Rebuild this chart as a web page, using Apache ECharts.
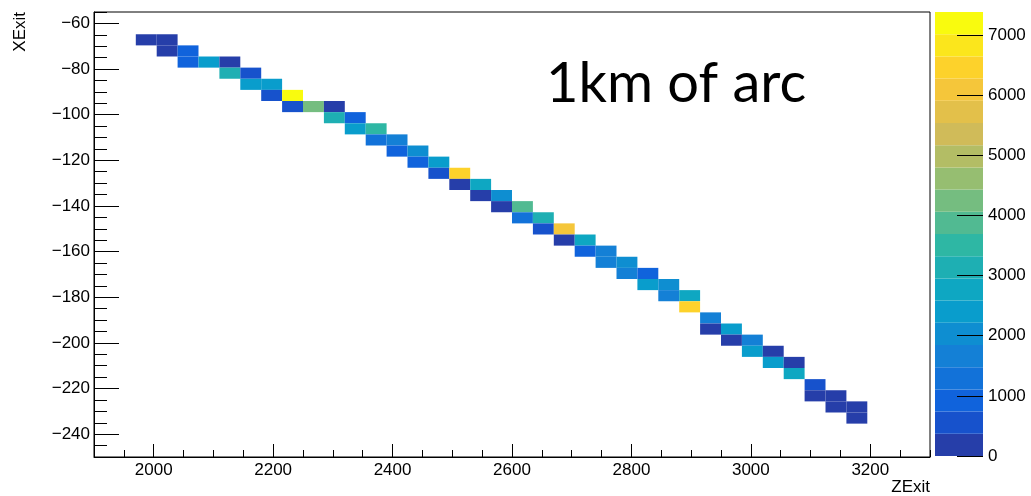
<!DOCTYPE html>
<html><head><meta charset="utf-8">
<script src="https://cdn.jsdelivr.net/npm/echarts@6/dist/echarts.min.js"></script>
<style>html,body{margin:0;padding:0;background:#fff}#c{width:1031px;height:496px}</style>
</head><body><div id="c"></div>
<script>
// ---- data (bin centres) ----
const zExit = [1987.5,2022.5,2022.5,2057.5,2057.5,2092.5,2127.5,2127.5,2162.5,2162.5,
  2197.5,2197.5,2232.5,2232.5,2267.5,2302.5,2302.5,2337.5,2337.5,2372.5,
  2372.5,2407.5,2407.5,2442.5,2442.5,2477.5,2477.5,2512.5,2512.5,2547.5,
  2547.5,2582.5,2582.5,2617.5,2617.5,2652.5,2652.5,2687.5,2687.5,2722.5,
  2722.5,2757.5,2757.5,2792.5,2792.5,2827.5,2827.5,2862.5,2862.5,2897.5,
  2897.5,2932.5,2932.5,2967.5,2967.5,3002.5,3002.5,3037.5,3037.5,3072.5,
  3072.5,3107.5,3107.5,3142.5,3142.5,3177.5,3177.5];
const xExit = [-67.19,-67.19,-72.06,-72.06,-76.94,-76.94,-76.94,-81.81,-81.81,-86.69,
  -86.69,-91.56,-91.56,-96.44,-96.44,-96.44,-101.31,-101.31,-106.19,-106.19,
  -111.06,-111.06,-115.94,-115.94,-120.81,-120.81,-125.69,-125.69,-130.56,-130.56,
  -135.44,-135.44,-140.31,-140.31,-145.19,-145.19,-150.06,-150.06,-154.94,-154.94,
  -159.81,-159.81,-164.69,-164.69,-169.56,-169.56,-174.44,-174.44,-179.31,-179.31,
  -184.19,-189.06,-193.94,-193.94,-198.81,-198.81,-203.69,-203.69,-208.56,-208.56,
  -213.44,-218.31,-223.19,-223.19,-228.06,-228.06,-232.94];
const counts = [240,310,280,900,880,2450,300,3150,620,2500,
  2480,640,7380,700,4200,250,3100,850,2420,3500,
  1250,1600,900,2000,920,2450,700,6450,260,2700,
  280,2000,250,3850,1400,3100,690,6150,300,2750,
  860,1620,1550,1950,1700,800,2400,1900,1650,2680,
  6500,1580,330,2380,270,1680,2500,240,2430,220,
  2720,600,290,310,270,300,260];
const zTicks = [2000,2200,2400,2600,2800,3000,3200];
const xTicks = [-240,-220,-200,-180,-160,-140,-120,-100,-80,-60];
const cTicks = [0,1000,2000,3000,4000,5000,6000,7000];
const Z_MIN = 1900, Z_MAX_AX = 3300, X_MIN = -250, X_MAX = -55;
const BIN_Z = 35, BIN_X = 4.875;
const C_MAX = 7380, N_LEVELS = 20;

// ---- ROOT kBird palette ----
const stops = [0,0.125,0.25,0.375,0.5,0.625,0.75,0.875,1];
const pr = [0.2082,0.0592,0.0780,0.0232,0.1802,0.5301,0.8186,0.9956,0.9764];
const pg = [0.1664,0.3599,0.5041,0.6419,0.7178,0.7492,0.7328,0.7862,0.9832];
const pb = [0.5293,0.8684,0.8385,0.7914,0.6425,0.4662,0.3499,0.1968,0.0539];
function bird(t){
  t = Math.max(0, Math.min(1, t));
  let k = 0; while (k < stops.length - 2 && t > stops[k+1]) k++;
  const f = (t - stops[k]) / (stops[k+1] - stops[k]);
  const c = a => Math.round(255 * (a[k] + (a[k+1] - a[k]) * f));
  return 'rgb(' + c(pr) + ',' + c(pg) + ',' + c(pb) + ')';
}
const levelColors = [], pieces = [], bands = [];
for (let k = 0; k < N_LEVELS; k++) {
  const col = bird((k + 0.99) / N_LEVELS);
  levelColors.push(col);
  const lo = k * C_MAX / N_LEVELS, hi = (k + 1) * C_MAX / N_LEVELS;
  pieces.push({gte: lo, lt: k === N_LEVELS - 1 ? C_MAX + 1 : hi, color: col});
  bands.push([lo, hi]);
}

const FONT = "'Liberation Sans', Arial, Helvetica, sans-serif";
const lbl = {fontFamily: FONT, fontSize: 17, color: '#000'};
const plain = v => String(v).replace('-', '\u2212');

const chart = echarts.init(document.getElementById('c'), null, {renderer: 'canvas'});
chart.setOption({
  animation: false,
  backgroundColor: '#fff',
  grid: [
    {left: 94, right: 101, top: 12, bottom: 39, show: true, borderColor: '#000', borderWidth: 1, backgroundColor: 'transparent'},
    {left: 935, width: 48, top: 12, bottom: 40}
  ],
  xAxis: [
    {gridIndex: 0, type: 'value', min: Z_MIN, max: Z_MAX_AX, interval: 50, position: 'bottom',
     axisLine: {show: true, onZero: false, lineStyle: {color: '#000', width: 1}},
     axisTick: {show: true, inside: true, length: 7, lineStyle: {color: '#000'}},
     axisLabel: {show: false}, splitLine: {show: false}},
    {gridIndex: 0, type: 'value', min: Z_MIN, max: Z_MAX_AX, position: 'bottom',
     axisLine: {show: false, onZero: false},
     axisTick: {show: true, inside: true, length: 13, customValues: zTicks, lineStyle: {color: '#000'}},
     axisLabel: Object.assign({show: true, margin: 5, customValues: zTicks, formatter: plain}, lbl),
     splitLine: {show: false}},
    {gridIndex: 1, type: 'value', min: 0, max: 1, show: false}
  ],
  yAxis: [
    {gridIndex: 0, type: 'value', min: X_MIN, max: X_MAX, interval: 5, position: 'left',
     axisLine: {show: true, onZero: false, lineStyle: {color: '#000', width: 1}},
     axisTick: {show: true, inside: true, length: 13, lineStyle: {color: '#000'}},
     axisLabel: {show: false}, splitLine: {show: false}},
    {gridIndex: 0, type: 'value', min: X_MIN, max: X_MAX, position: 'left',
     axisLine: {show: false, onZero: false},
     axisTick: {show: true, inside: true, length: 25, customValues: xTicks, lineStyle: {color: '#000'}},
     axisLabel: Object.assign({show: true, margin: 4, customValues: xTicks, formatter: plain}, lbl),
     splitLine: {show: false}},
    {gridIndex: 1, type: 'value', min: 0, max: C_MAX, position: 'right', z: 10,
     axisLine: {show: false, onZero: false},
     axisTick: {show: true, inside: true, length: 26, customValues: cTicks, lineStyle: {color: '#000'}},
     axisLabel: Object.assign({show: true, margin: 5, customValues: cTicks, formatter: plain}, lbl),
     splitLine: {show: false}}
  ],
  visualMap: {type: 'piecewise', show: false, dimension: 2, seriesIndex: 0, pieces: pieces},
  series: [
    {type: 'custom', xAxisIndex: 0, yAxisIndex: 0, z: 1,
     data: zExit.map((z, i) => [z, xExit[i], counts[i]]),
     encode: {x: 0, y: 1},
     renderItem: function (params, api) {
       const z = api.value(0), x = api.value(1);
       const p0 = api.coord([z - BIN_Z / 2, x + BIN_X / 2]);
       const p1 = api.coord([z + BIN_Z / 2, x - BIN_X / 2]);
       return {type: 'rect', shape: {x: p0[0], y: p0[1], width: p1[0] - p0[0], height: p1[1] - p0[1]},
               style: {fill: api.visual('color')}};
     }},
    {type: 'custom', xAxisIndex: 2, yAxisIndex: 2, z: 0,
     data: bands,
     encode: {y: [0, 1]},
     renderItem: function (params, api) {
       const p0 = api.coord([0, api.value(1)]);
       const p1 = api.coord([1, api.value(0)]);
       return {type: 'rect', shape: {x: p0[0], y: p0[1], width: p1[0] - p0[0], height: p1[1] - p0[1]},
               style: {fill: levelColors[params.dataIndex]}};
     }}
  ],
  graphic: [
    {type: 'text', x: 20, y: 12, rotation: Math.PI / 2,
     style: {text: 'XExit', fill: '#000', font: '17px ' + FONT, align: 'right', verticalAlign: 'middle'}},
    {type: 'text', x: 930, y: 487,
     style: {text: 'ZExit', fill: '#000', font: '17px ' + FONT, align: 'right', verticalAlign: 'middle'}},
    {type: 'text', x: 546, y: 84,
     style: {text: '1km of arc', fill: '#000', font: '56px Lato, "Open Sans", sans-serif', align: 'left', verticalAlign: 'middle'}}
  ]
});
</script></body></html>
